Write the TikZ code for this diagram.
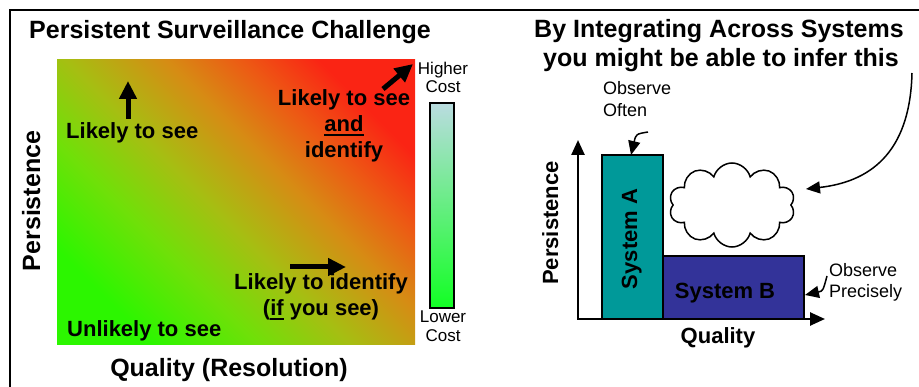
\documentclass[tikz,border=0pt]{standalone}
\usepackage{fontspec}
\setmainfont{Liberation Sans}
\usetikzlibrary{arrows.meta,shapes.symbols}

\definecolor{hotred}{RGB}{250,36,20}
\definecolor{hotorange}{RGB}{236,92,20}
\definecolor{warmorange}{RGB}{214,140,20}
\definecolor{midolive}{RGB}{166,190,18}
\definecolor{leafgreen}{RGB}{112,224,8}
\definecolor{coolgreen}{RGB}{44,246,0}
\definecolor{costtop}{RGB}{186,220,224}
\definecolor{costbot}{RGB}{18,255,36}
\definecolor{sysA}{RGB}{0,153,153}
\definecolor{sysB}{RGB}{51,51,153}

\pgfdeclareverticalshading{heatmap}{100bp}{color(0bp)=(coolgreen); color(25bp)=(coolgreen);
	color(37bp)=(leafgreen); color(47bp)=(midolive); color(58bp)=(warmorange);
	color(66bp)=(hotorange); color(75bp)=(hotred); color(100bp)=(hotred)}

\newcommand{\undr}[1]{\setbox0=\hbox{#1}\rlap{\rule[-4pt]{\wd0}{2pt}}\box0\relax}

\begin{document}
\begin{tikzpicture}[x=1pt,y=-1pt,
	big/.style={font=\fontsize{25}{29}\selectfont\bfseries,inner sep=0},
	lab/.style={font=\fontsize{22}{26}\selectfont\bfseries,inner sep=0},
	note/.style={font=\fontsize{17}{20}\selectfont,inner sep=0},
	fat/.style={line width=5pt,-{Triangle[length=18pt,width=17pt]}},
	pointer/.style={line width=1.5pt,-{Triangle[length=14pt,width=12pt]}}]
	\useasboundingbox (0,0) rectangle (919,387);
	\draw[line width=2pt] (10,387) -- (10,10) -- (919,10);

	% left half
	\node[big,anchor=base] (lefttitle) at (230,39) {Persistent Surveillance Challenge};
	\shade[shading=heatmap,shading angle=-45] (57,60) rectangle (415,345);
	\node[lab,anchor=base west] (seeonly) at (66,139) {Likely to see};
	\coordinate (upfoot) at (128,119);
	\coordinate (uptip) at (128,81);
	\draw[fat] (upfoot) -- (uptip);
	\node[lab,anchor=base] (both1) at (344,106) {Likely to see};
	\node[lab,anchor=base] (both2) at (344,132) {\undr{and}};
	\node[lab,anchor=base] (both3) at (344,158) {identify};
	\coordinate (nefoot) at (383,89);
	\coordinate (netip) at (413,64);
	\draw[fat] (nefoot) -- (netip);
	\coordinate (rfoot) at (290,267);
	\coordinate (rtip) at (346,267);
	\draw[fat] (rfoot) -- (rtip);
	\node[lab,anchor=base] (ident1) at (321,290) {Likely to identify};
	\node[lab,anchor=base] (ident2) at (321,316) {(\undr{if} you see)};
	\node[lab,anchor=base west] (unlikely) at (67,337) {Unlikely to see};
	\node[big,anchor=base] (leftx) at (229,377) {Quality (Resolution)};
	\node[big,anchor=base,rotate=90] (lefty) at (40,201) {Persistence};

	% cost bar
	\shade[top color=costtop,bottom color=costbot] (430,103) rectangle (454,308);
	\draw[line width=1.5pt] (430,103) rectangle (454,308);
	\node[note,anchor=base] (hi1) at (443,75) {Higher};
	\node[note,anchor=base] (hi2) at (443,93) {Cost};
	\node[note,anchor=base] (lo1) at (443,323) {Lower};
	\node[note,anchor=base] (lo2) at (443,342) {Cost};

	% right half
	\node[big,anchor=base] (infer1) at (719,38) {By Integrating Across Systems};
	\node[big,anchor=base] (infer2) at (721,67) {you might be able to infer this};
	\coordinate (ytip) at (578,140);
	\coordinate (origin) at (578,319);
	\coordinate (xtip) at (825,319);
	\draw[line width=2.5pt,{Triangle[length=15pt,width=13pt]}-{Triangle[length=15pt,width=13pt]}] (ytip) -- (origin) -- (xtip);
	\draw[line width=1.5pt,fill=sysB] (663,256) rectangle (804,319);
	\draw[line width=1.5pt,fill=sysA] (602,155) rectangle (663,319);
	\node[lab,anchor=base,rotate=90] (sysa) at (637,239) {System A};
	\node[lab,anchor=base] (sysb) at (725,299) {System B};
	\node[lab,anchor=base] (rightx) at (718,344) {Quality};
	\node[lab,anchor=base,rotate=90] (righty) at (558,223) {Persistence};
	\node[cloud,draw,line width=1.5pt,cloud puffs=10,aspect=1.5,minimum width=126pt,minimum height=84pt,inner sep=0] (guess) at (732,205) {};
	\coordinate (infertail) at (912,73);
	\coordinate (infertip) at (806,189);
	\draw[pointer] (infertail) .. controls (910,155) and (868,182) .. (infertip);
	\node[note,anchor=base west,font=\fontsize{18}{21}\selectfont] (often1) at (603,95) {Observe};
	\node[note,anchor=base west,font=\fontsize{18}{21}\selectfont] (often2) at (603,117) {Often};
	\coordinate (oftentail) at (648,132);
	\coordinate (oftentip) at (631,155);
	\draw[pointer] (oftentail) .. controls (636,134) .. (oftentip);
	\node[note,anchor=base west,font=\fontsize{18}{21}\selectfont] (prec1) at (829,277) {Observe};
	\node[note,anchor=base west,font=\fontsize{18}{21}\selectfont] (prec2) at (829,298) {Precisely};
	\coordinate (prectail) at (827,276);
	\coordinate (prectip) at (805,295);
	\draw[pointer] (prectail) .. controls (823,291) .. (prectip);
\end{tikzpicture}
\end{document}
